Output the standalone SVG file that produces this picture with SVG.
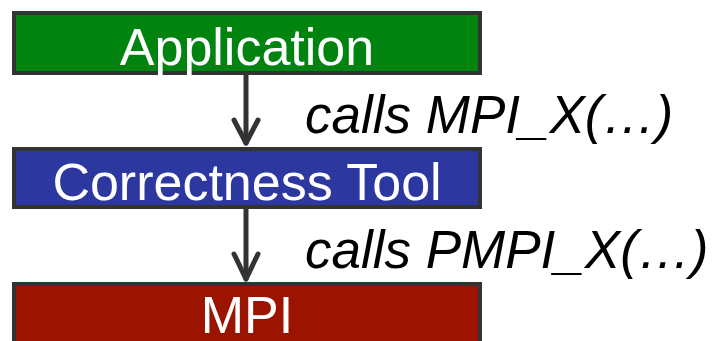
<svg xmlns="http://www.w3.org/2000/svg" width="712" height="341" viewBox="0 0 712 341">
<style>
.box{stroke:#333;stroke-width:4}
.lbl{font-family:"Liberation Sans",Arial,sans-serif;font-size:52px;fill:#fff;text-anchor:middle}
.call{font-family:"Liberation Sans",Arial,sans-serif;font-size:53px;font-style:italic;fill:#000}
.conn{stroke:#333;stroke-width:5;fill:none;stroke-linecap:round;stroke-linejoin:round}
</style>
<rect width="712" height="341" fill="#fff"/>
<g id="application">
<rect class="box" x="14" y="13" width="466" height="60" fill="#00840f"/>
<text class="lbl" x="247" y="65">Application</text>
</g>
<g id="correctness-tool">
<rect class="box" x="14" y="149" width="466" height="58" fill="#2d37a0"/>
<text class="lbl" x="247" y="200">Correctness Tool</text>
</g>
<g id="mpi">
<rect class="box" x="14" y="284" width="466" height="80" fill="#9c1300"/>
<text class="lbl" x="247" y="333">MPI</text>
</g>
<g id="connectors">
<line class="conn" x1="246" y1="75" x2="246" y2="143"/>
<polyline class="conn" points="234,120 246,143 258,120"/>
<line class="conn" x1="246" y1="209" x2="246" y2="279"/>
<polyline class="conn" points="234,254 246,279 258,254"/>
<text class="call" x="305" y="133">calls MPI_X(…)</text>
<text class="call" x="305" y="268">calls PMPI_X(…)</text>
</g>
</svg>
